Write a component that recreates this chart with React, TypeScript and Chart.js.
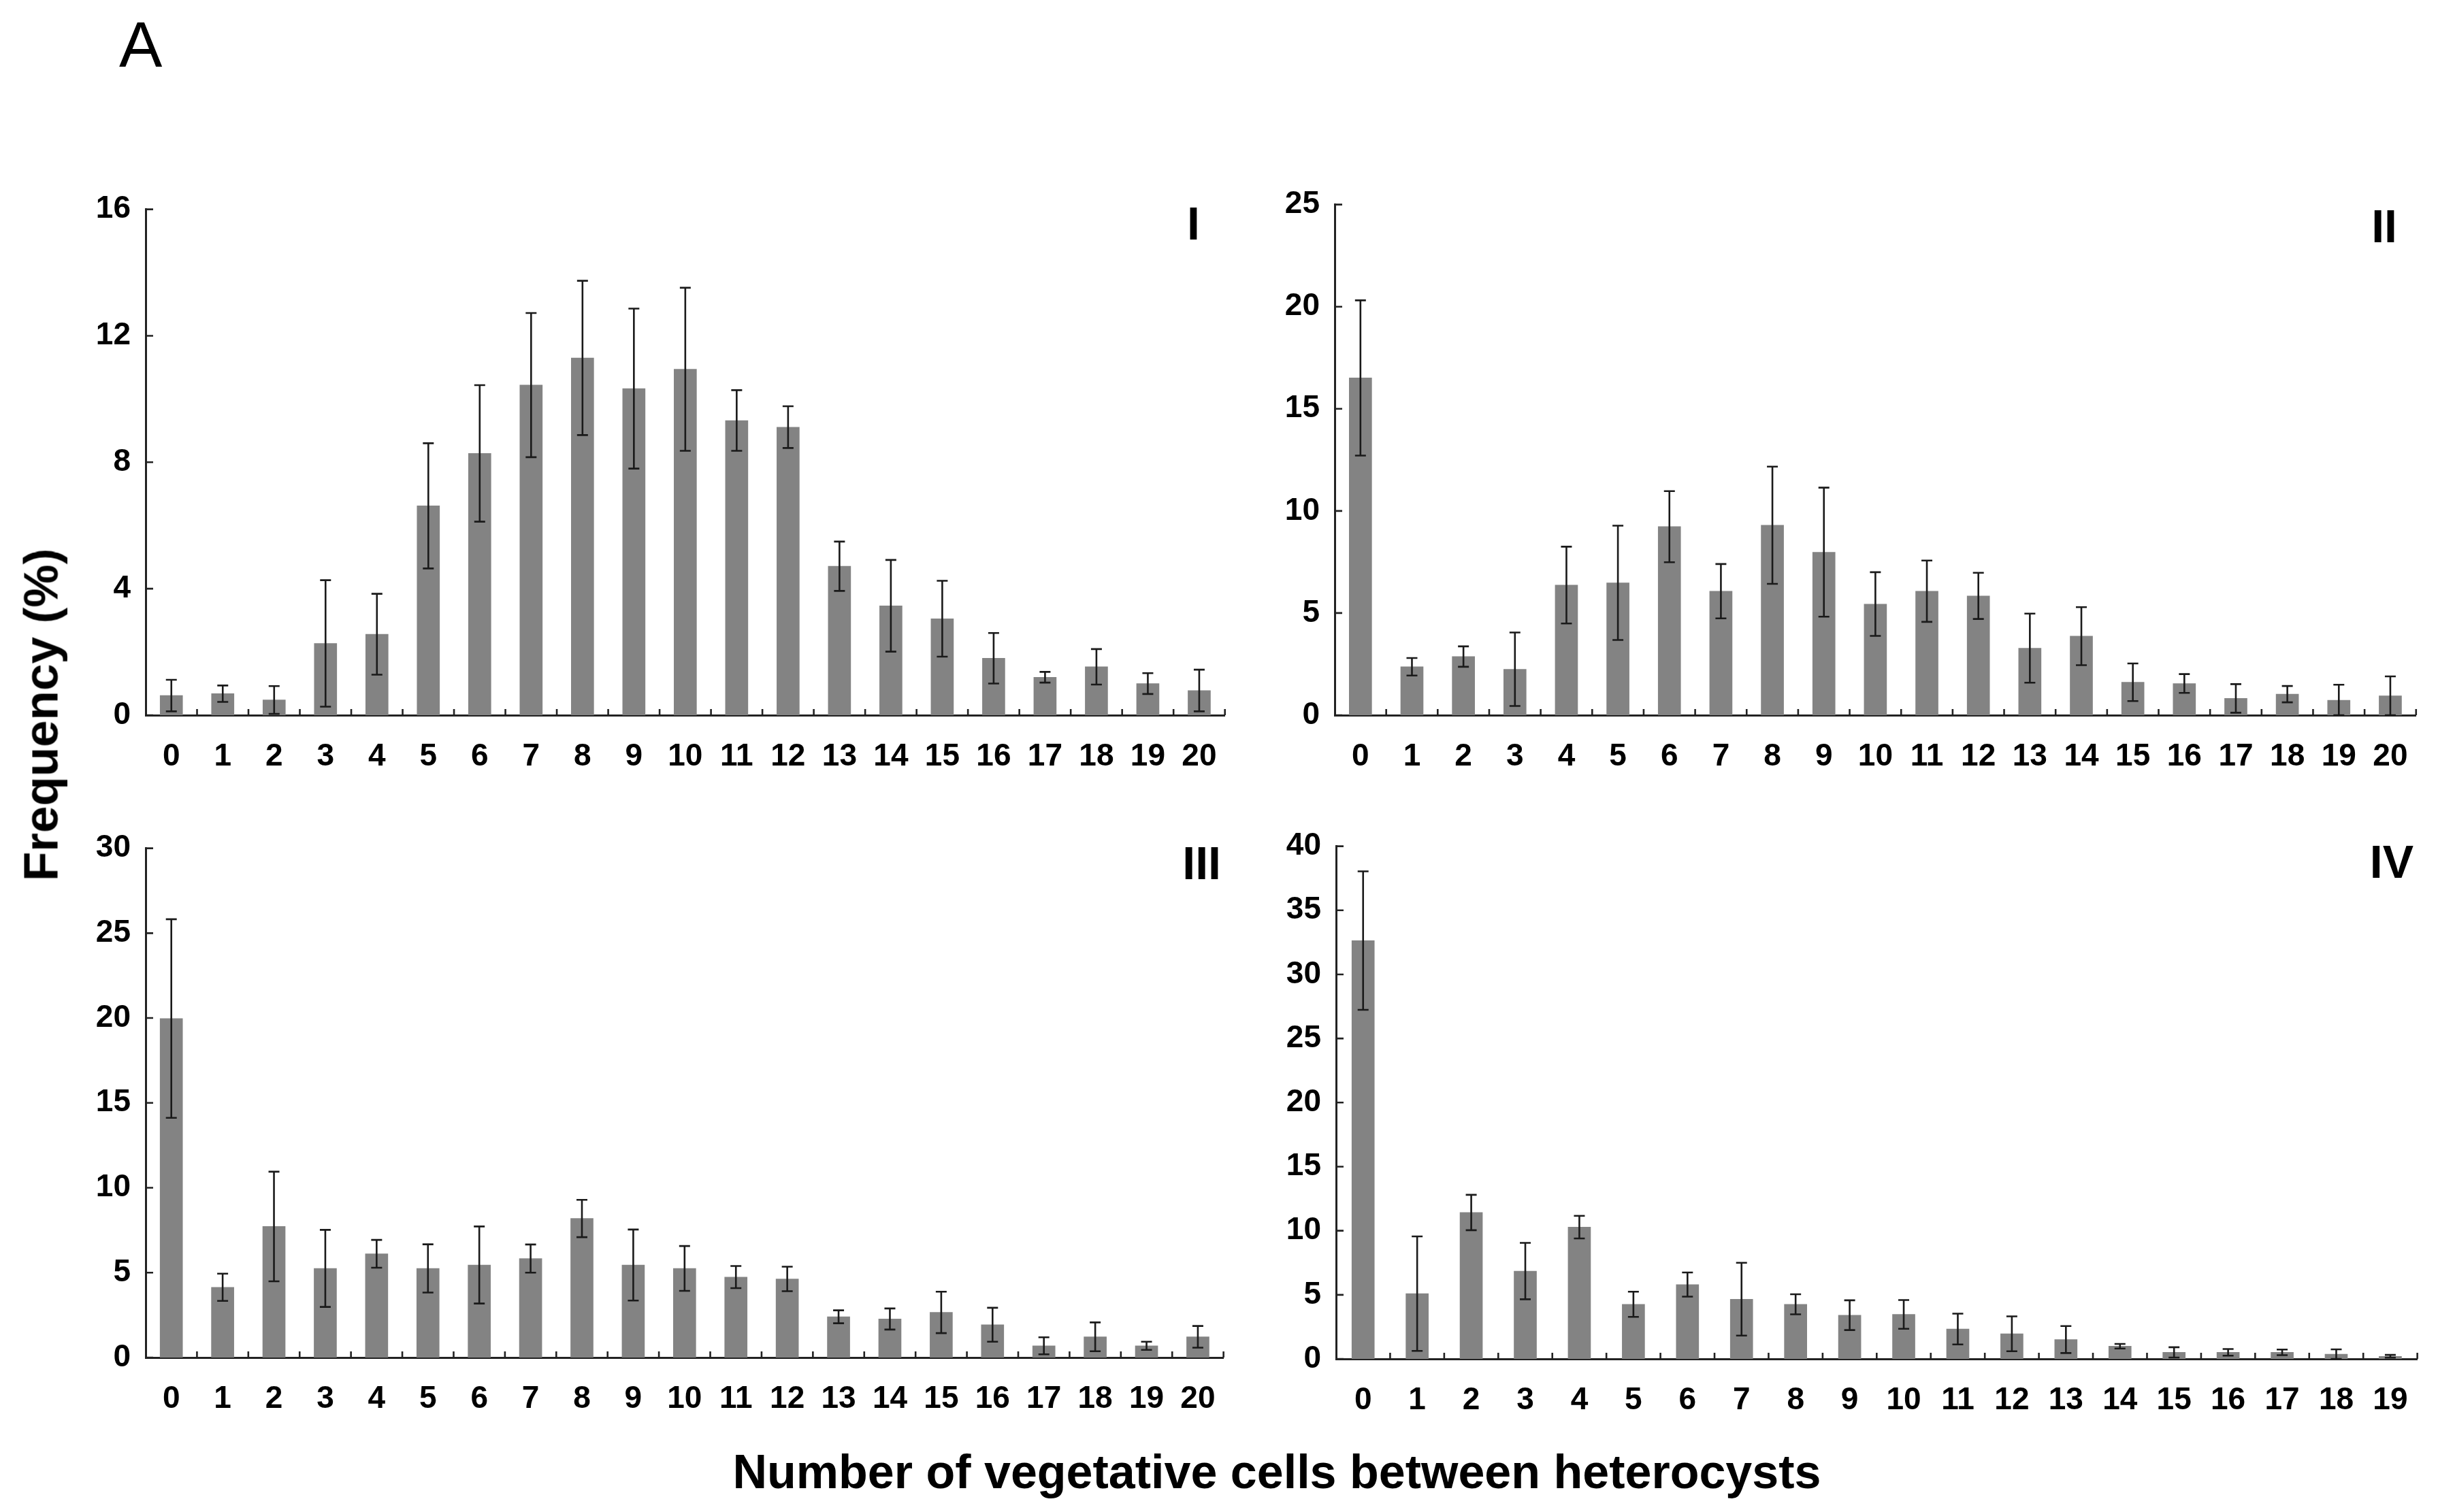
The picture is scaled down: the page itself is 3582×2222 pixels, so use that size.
import React, { useEffect, useRef } from "react";
import { Chart, registerables } from "chart.js";

Chart.register(...registerables);

// ---------- data ----------
const categoriesI = ["0", "1", "2", "3", "4", "5", "6", "7", "8", "9", "10", "11", "12", "13", "14", "15", "16", "17", "18", "19", "20"];
const categoriesII = ["0", "1", "2", "3", "4", "5", "6", "7", "8", "9", "10", "11", "12", "13", "14", "15", "16", "17", "18", "19", "20"];
const categoriesIII = ["0", "1", "2", "3", "4", "5", "6", "7", "8", "9", "10", "11", "12", "13", "14", "15", "16", "17", "18", "19", "20"];
const categoriesIV = ["0", "1", "2", "3", "4", "5", "6", "7", "8", "9", "10", "11", "12", "13", "14", "15", "16", "17", "18", "19"];

const valuesI = [0.62, 0.68, 0.48, 2.27, 2.56, 6.62, 8.28, 10.44, 11.3, 10.33, 10.94, 9.32, 9.11, 4.71, 3.46, 3.05, 1.8, 1.2, 1.53, 1.0, 0.78];
const errorsI = [0.5, 0.26, 0.44, 2.0, 1.28, 1.98, 2.16, 2.28, 2.44, 2.53, 2.58, 0.96, 0.66, 0.78, 1.45, 1.2, 0.8, 0.17, 0.56, 0.33, 0.66];

const valuesII = [16.51, 2.37, 2.87, 2.25, 6.37, 6.48, 9.23, 6.07, 9.3, 7.98, 5.44, 6.07, 5.84, 3.28, 3.87, 1.61, 1.55, 0.82, 1.03, 0.73, 0.95];
const errorsII = [3.8, 0.43, 0.5, 1.8, 1.88, 2.8, 1.74, 1.33, 2.87, 3.16, 1.56, 1.5, 1.13, 1.69, 1.42, 0.92, 0.46, 0.7, 0.4, 0.76, 0.95];

const valuesIII = [19.97, 4.14, 7.72, 5.25, 6.11, 5.25, 5.45, 5.83, 8.19, 5.45, 5.25, 4.74, 4.63, 2.4, 2.27, 2.66, 1.93, 0.69, 1.22, 0.69, 1.22];
const errorsIII = [5.85, 0.8, 3.23, 2.27, 0.82, 1.42, 2.27, 0.83, 1.1, 2.09, 1.32, 0.65, 0.72, 0.38, 0.62, 1.22, 1.0, 0.5, 0.85, 0.24, 0.64];

const valuesIV = [32.64, 5.09, 11.42, 6.85, 10.28, 4.26, 5.8, 4.66, 4.26, 3.41, 3.47, 2.33, 1.96, 1.51, 0.99, 0.51, 0.51, 0.51, 0.37, 0.2];
const errorsIV = [5.4, 4.47, 1.38, 2.2, 0.88, 0.98, 0.94, 2.84, 0.78, 1.16, 1.12, 1.2, 1.36, 1.05, 0.18, 0.4, 0.26, 0.22, 0.37, 0.11];

const yTicksI = [0, 4, 8, 12, 16];
const yTicksII = [0, 5, 10, 15, 20, 25];
const yTicksIII = [0, 5, 10, 15, 20, 25, 30];
const yTicksIV = [0, 5, 10, 15, 20, 25, 30, 35, 40];

const panelNames = ["I", "II", "III", "IV"];
const yTitle = "Frequency (%)";
const xTitle = "Number of vegetative cells between heterocysts";
const figLetter = "A";

// ---------- styles ----------
const FONT = "'Liberation Sans', Arial, Helvetica, sans-serif";
const BAR_COLOR = "#838383";
const AXIS_COLOR = "#222222";
const ERR_COLOR = "#1a1a1a";
const Y_AXIS_W = 120;
const X_AXIS_H = 100;
const PAD_TOP = 40;
const PAD_RIGHT = 20;

type Box = { L: number; R: number; T: number; B: number };

interface PanelProps {
  labels: string[];
  values: number[];
  errors: number[];
  yTicks: number[];
  box: Box;
}

function Panel({ labels, values, errors, yTicks, box }: PanelProps) {
  const ref = useRef<HTMLCanvasElement | null>(null);
  const cw = Math.round(box.R - box.L + Y_AXIS_W + PAD_RIGHT);
  const ch = Math.round(box.B - box.T + PAD_TOP + X_AXIS_H);

  useEffect(() => {
    if (!ref.current) return;
    const overlay = {
      id: "overlay",
      afterDatasetsDraw(chart: any) {
        const ctx = chart.ctx;
        const ys = chart.scales.y;
        const meta = chart.getDatasetMeta(0);
        ctx.save();
        ctx.strokeStyle = ERR_COLOR;
        ctx.lineWidth = 2.6;
        ctx.lineCap = "butt";
        const cap = 8;
        meta.data.forEach((bar: any, i: number) => {
          const v = values[i];
          const e = errors[i];
          const yt = ys.getPixelForValue(v + e);
          const yb = ys.getPixelForValue(Math.max(0, v - e));
          ctx.beginPath();
          ctx.moveTo(bar.x, yt);
          ctx.lineTo(bar.x, yb);
          ctx.moveTo(bar.x - cap, yt);
          ctx.lineTo(bar.x + cap, yt);
          ctx.moveTo(bar.x - cap, yb);
          ctx.lineTo(bar.x + cap, yb);
          ctx.stroke();
        });
        ctx.restore();
      },
      afterDraw(chart: any) {
        const ctx = chart.ctx;
        const xs = chart.scales.x;
        const ys = chart.scales.y;
        const area = chart.chartArea;
        ctx.save();
        ctx.strokeStyle = AXIS_COLOR;
        ctx.lineWidth = 2.6;
        const n = labels.length;
        const half = (xs.getPixelForValue(1) - xs.getPixelForValue(0)) / 2;
        ctx.beginPath();
        for (let i = 0; i < n; i++) {
          const x = xs.getPixelForValue(i) + half;
          ctx.moveTo(x, area.bottom);
          ctx.lineTo(x, area.bottom - 9);
        }
        ys.ticks.forEach((t: any) => {
          const y = ys.getPixelForValue(t.value);
          ctx.moveTo(area.left, y);
          ctx.lineTo(area.left + 11, y);
        });
        ctx.stroke();
        ctx.restore();
      },
    };

    const chart = new Chart(ref.current, {
      type: "bar",
      data: {
        labels,
        datasets: [
          {
            data: values,
            backgroundColor: BAR_COLOR,
            borderWidth: 0,
            barThickness: 33,
          },
        ],
      },
      options: {
        responsive: false,
        animation: false,
        devicePixelRatio: 1,
        layout: { padding: { left: 0, right: PAD_RIGHT, top: PAD_TOP, bottom: 0 } },
        plugins: { legend: { display: false }, tooltip: { enabled: false }, title: { display: false } },
        scales: {
          x: {
            type: "category",
            offset: true,
            grid: { display: false, drawTicks: false },
            border: { display: true, color: AXIS_COLOR, width: 3 },
            ticks: {
              color: "#000",
              padding: 34,
              maxRotation: 0,
              autoSkip: false,
              font: { family: FONT, size: 46, weight: "bold" },
            },
            afterFit(scale: any) {
              scale.height = X_AXIS_H;
            },
          },
          y: {
            type: "linear",
            min: yTicks[0],
            max: yTicks[yTicks.length - 1],
            grid: { display: false, drawTicks: false },
            border: { display: true, color: AXIS_COLOR, width: 3 },
            ticks: {
              color: "#000",
              padding: 22,
              font: { family: FONT, size: 46, weight: "bold" },
            },
            afterBuildTicks(scale: any) {
              scale.ticks = yTicks.map((v) => ({ value: v }));
            },
            afterFit(scale: any) {
              scale.width = Y_AXIS_W;
            },
          },
        },
      },
      plugins: [overlay],
    } as any);
    return () => chart.destroy();
  }, []);

  return (
    <canvas
      ref={ref}
      width={cw}
      height={ch}
      style={{
        position: "absolute",
        left: Math.round(box.L - Y_AXIS_W),
        top: Math.round(box.T - PAD_TOP),
        width: cw,
        height: ch,
      }}
    />
  );
}

const boxes: Box[] = [
  { L: 214, R: 1802, T: 298, B: 1051 },
  { L: 1961, R: 3552, T: 291, B: 1051 },
  { L: 214, R: 1800, T: 1237, B: 1995 },
  { L: 1963, R: 3552, T: 1234, B: 1997 },
];

// numeral placement: right edge and cap-top
const numeralPos = [
  { right: 1763, capTop: 303 },
  { right: 3522, capTop: 307 },
  { right: 1794, capTop: 1243 },
  { right: 3546, capTop: 1241 },
];

export default function App() {
  const numSize = 68;
  return (
    <div
      style={{
        position: "fixed",
        left: 0,
        top: 0,
        width: 3582,
        height: 2222,
        background: "#fff",
        overflow: "hidden",
        fontFamily: FONT,
      }}
    >
      <div
        style={{
          position: "absolute",
          left: 175,
          top: 18,
          fontSize: 95,
          lineHeight: 1,
          fontWeight: "normal",
          color: "#000",
          whiteSpace: "nowrap",
        }}
      >
        {figLetter}
      </div>

      <Panel labels={categoriesI} values={valuesI} errors={errorsI} yTicks={yTicksI} box={boxes[0]} />
      <Panel labels={categoriesII} values={valuesII} errors={errorsII} yTicks={yTicksII} box={boxes[1]} />
      <Panel labels={categoriesIII} values={valuesIII} errors={errorsIII} yTicks={yTicksIII} box={boxes[2]} />
      <Panel labels={categoriesIV} values={valuesIV} errors={errorsIV} yTicks={yTicksIV} box={boxes[3]} />

      {numeralPos.map((p, i) => (
        <div
          key={i}
          style={{
            position: "absolute",
            left: p.right - 400,
            width: 400,
            top: p.capTop - (0.8465 - 0.716) * numSize,
            fontSize: numSize,
            lineHeight: 1,
            fontWeight: "bold",
            textAlign: "right",
            color: "#000",
            whiteSpace: "nowrap",
          }}
        >
          {panelNames[i]}
        </div>
      ))}

      <div
        style={{
          position: "absolute",
          left: 60 - 400,
          top: 1050 - 35.5,
          width: 800,
          height: 71,
          fontSize: 71,
          lineHeight: 1,
          fontWeight: "bold",
          textAlign: "center",
          color: "#000",
          whiteSpace: "nowrap",
          transform: "rotate(-90deg)",
        }}
      >
        {yTitle}
      </div>

      <div
        style={{
          position: "absolute",
          left: 1876 - 1200,
          top: 2128,
          width: 2400,
          fontSize: 70,
          lineHeight: 1,
          fontWeight: "bold",
          textAlign: "center",
          color: "#000",
          whiteSpace: "nowrap",
        }}
      >
        {xTitle}
      </div>
    </div>
  );
}
